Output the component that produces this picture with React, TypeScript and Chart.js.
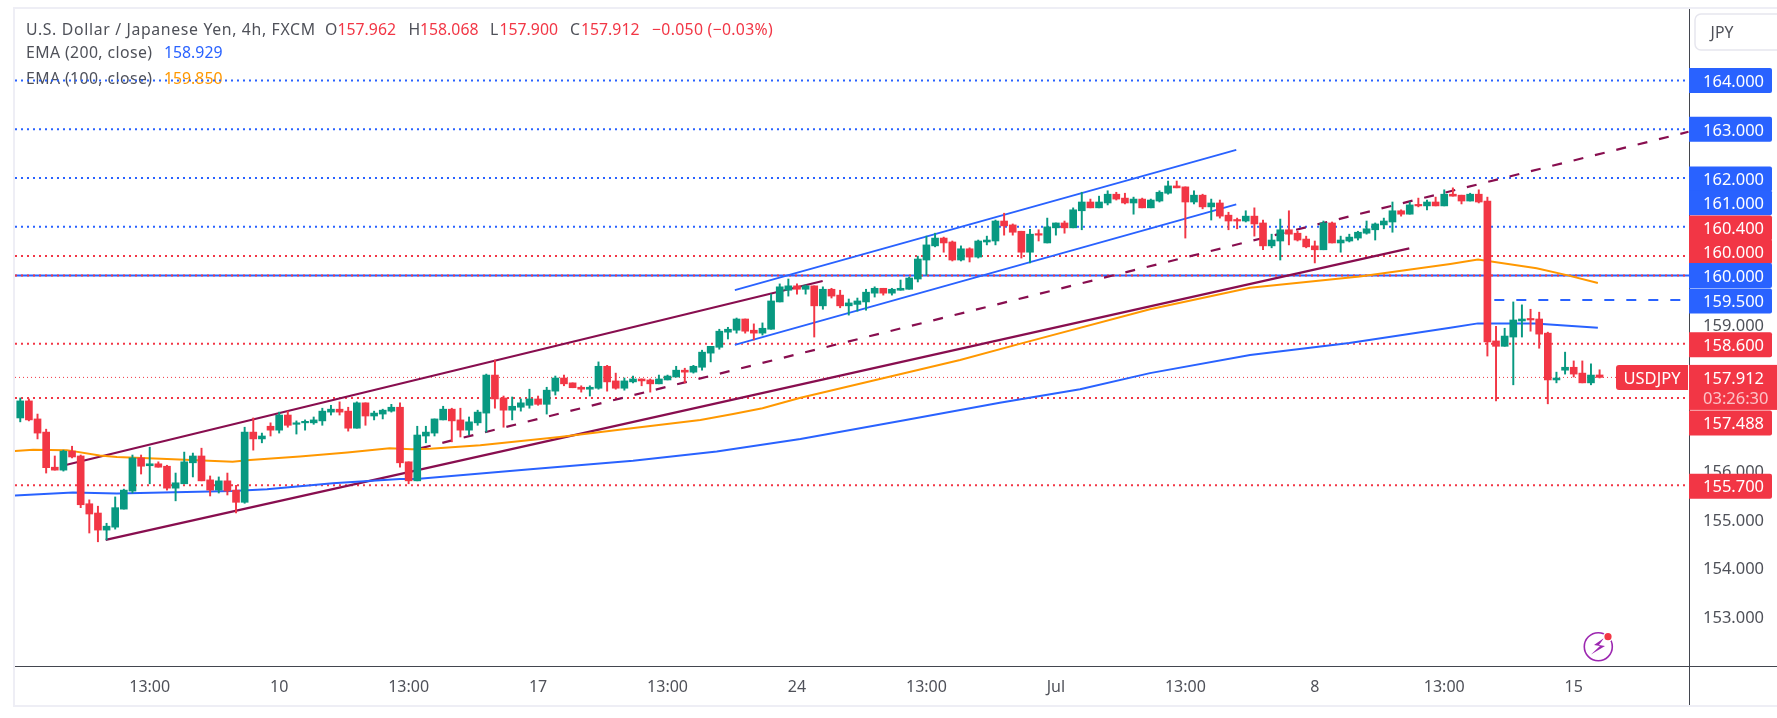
import { useEffect, useRef } from 'react'
import { Chart, registerables } from 'chart.js'

Chart.register(...registerables)

const opens = [
  157.08,157.43,157.06,156.79,156.07,156.01,156.40,156.30,155.32,155.13,
  154.78,154.84,155.21,155.58,156.26,156.10,156.14,156.09,155.64,155.73,
  156.16,156.30,155.81,155.60,155.79,155.60,155.35,156.79,156.65,156.91,
  156.83,157.14,156.95,156.98,156.98,157.02,157.20,157.26,157.22,156.87,
  157.39,157.12,157.16,157.22,157.30,156.18,155.79,156.71,156.77,157.04,
  157.26,157.04,156.83,156.98,157.18,157.96,157.49,157.24,157.30,157.34,
  157.47,157.36,157.63,157.90,157.80,157.71,157.67,157.69,158.14,157.84,
  157.69,157.82,157.88,157.86,157.78,157.86,157.92,158.06,158.02,158.12,
  158.41,158.53,158.84,158.88,159.11,158.88,158.82,158.90,159.46,159.70,
  159.79,159.72,159.79,159.38,159.72,159.60,159.38,159.41,159.46,159.64,
  159.74,159.64,159.70,159.72,159.93,160.32,160.61,160.77,160.69,160.32,
  160.55,160.38,160.69,160.71,161.12,161.04,160.91,160.48,160.85,160.67,
  160.98,161.08,160.98,161.33,161.51,161.39,161.49,161.67,161.59,161.49,
  161.57,161.39,161.53,161.69,161.84,161.82,161.51,161.65,161.41,161.49,
  161.24,161.14,161.12,161.22,161.08,160.61,160.71,160.94,160.87,160.75,
  160.61,160.53,161.08,160.67,160.71,160.77,160.87,160.94,161.04,161.10,
  161.33,161.26,161.45,161.43,161.51,161.43,161.67,161.65,161.53,161.67,
  161.53,158.66,158.55,158.74,159.07,159.11,159.11,158.82,157.86,158.06,
  158.12,158.00,157.80,157.962,
]
const closes = [
  157.43,157.04,156.77,156.06,156.01,156.40,156.28,155.30,155.11,154.78,
  154.86,155.24,155.60,156.26,156.09,156.14,156.07,155.64,155.75,156.18,
  156.30,155.79,155.60,155.79,155.58,155.35,156.79,156.65,156.71,156.83,
  157.14,156.93,156.98,157.00,157.04,157.22,157.26,157.20,156.87,157.39,
  157.12,157.18,157.24,157.30,156.16,155.79,156.73,156.79,157.06,157.26,
  157.02,156.83,157.00,157.20,157.96,157.47,157.24,157.32,157.39,157.47,
  157.36,157.65,157.90,157.78,157.70,157.67,157.71,158.14,157.82,157.69,
  157.84,157.88,157.84,157.78,157.88,157.94,158.06,158.02,158.14,158.43,
  158.55,158.86,158.90,159.11,158.86,158.82,158.92,159.48,159.77,159.79,
  159.72,159.79,159.38,159.72,159.58,159.38,159.44,159.48,159.66,159.74,
  159.64,159.72,159.74,159.95,160.34,160.63,160.77,160.67,160.32,160.55,
  160.38,160.71,160.73,161.12,161.02,160.89,160.48,160.85,160.83,161.00,
  161.08,160.98,161.35,161.51,161.39,161.51,161.67,161.57,161.49,161.57,
  161.39,161.55,161.71,161.84,161.80,161.51,161.65,161.41,161.49,161.22,
  161.12,161.12,161.22,161.06,160.61,160.73,160.94,160.85,160.73,160.59,
  160.53,161.08,160.67,160.73,160.79,160.89,160.96,161.06,161.12,161.33,
  161.26,161.45,161.43,161.51,161.43,161.67,161.63,161.53,161.67,161.51,
  158.64,158.55,158.76,159.09,159.11,159.09,158.80,157.86,157.90,158.12,
  157.98,157.80,157.96,157.912,
]
const highs = [
  157.49,157.47,157.16,156.85,156.30,156.42,156.50,156.32,155.40,155.27,
  154.92,155.46,155.62,156.32,156.32,156.48,156.18,156.11,155.95,156.38,
  156.36,156.46,155.89,155.87,155.95,155.70,156.89,157.08,156.77,156.98,
  157.20,157.22,157.02,157.04,157.10,157.28,157.34,157.41,157.30,157.41,
  157.39,157.22,157.26,157.36,157.39,156.18,156.91,156.91,157.06,157.32,
  157.28,157.28,157.10,157.24,157.98,158.27,157.53,157.51,157.47,157.67,
  157.53,157.71,157.94,157.96,157.80,157.74,157.74,158.23,158.16,158.00,
  157.90,157.94,157.88,157.88,157.96,157.96,158.14,158.10,158.16,158.47,
  158.55,158.90,158.94,159.13,159.11,159.01,159.03,159.62,159.83,159.93,
  159.83,159.81,159.79,159.77,159.74,159.70,159.52,159.54,159.72,159.77,
  159.74,159.74,159.91,159.97,160.40,160.81,160.87,160.79,160.71,160.61,
  160.57,160.73,160.81,161.14,161.28,161.06,160.91,160.95,160.94,161.18,
  161.08,161.12,161.39,161.71,161.57,161.63,161.74,161.71,161.69,161.61,
  161.59,161.57,161.74,161.94,161.94,161.82,161.74,161.67,161.57,161.55,
  161.30,161.18,161.33,161.39,161.14,160.85,161.16,161.33,160.91,160.81,
  160.71,161.12,161.10,160.81,160.85,160.91,161.12,161.08,161.18,161.51,
  161.35,161.51,161.59,161.55,161.61,161.76,161.80,161.65,161.69,161.76,
  161.61,158.96,158.92,159.46,159.40,159.31,159.25,158.84,158.02,158.43,
  158.25,158.25,158.19,158.068,
]
const lows = [
  157.00,157.02,156.65,155.95,156.01,155.99,156.26,155.24,154.72,154.54,
  154.58,154.80,155.21,155.54,155.93,155.73,156.07,155.60,155.38,155.73,
  155.87,155.79,155.48,155.54,155.50,155.13,155.33,156.42,156.57,156.71,
  156.77,156.89,156.75,156.83,156.95,156.93,157.14,157.14,156.81,156.87,
  156.93,157.04,157.06,157.20,156.07,155.73,155.79,156.57,156.71,157.04,
  156.59,156.69,156.73,156.93,156.79,157.28,156.89,157.04,157.22,157.28,
  157.34,157.16,157.55,157.74,157.70,157.61,157.53,157.67,157.63,157.67,
  157.65,157.80,157.74,157.61,157.78,157.86,157.92,157.80,158.00,158.06,
  158.23,158.49,158.70,158.82,158.82,158.68,158.78,158.90,159.46,159.58,
  159.62,159.62,158.74,159.31,159.54,159.34,159.19,159.27,159.29,159.56,
  159.60,159.60,159.70,159.72,159.87,160.01,160.59,160.48,160.30,160.30,
  160.28,160.36,160.63,160.63,160.83,160.83,160.36,160.26,160.71,160.67,
  160.83,160.87,160.98,160.94,161.39,161.39,161.45,161.55,161.47,161.26,
  161.39,161.39,161.51,161.67,161.80,160.77,161.47,161.37,161.14,161.18,
  160.94,160.96,161.10,160.81,160.53,160.57,160.32,160.63,160.71,160.57,
  160.26,160.53,160.67,160.48,160.69,160.73,160.85,160.73,160.96,160.89,
  161.22,161.26,161.41,161.35,161.43,161.43,161.63,161.47,161.53,161.49,
  158.35,157.43,158.55,157.76,158.74,158.86,158.51,157.37,157.80,157.98,
  157.92,157.80,157.76,157.900,
]

// EMA lines, read at the bends: candle index and price
const ema100Index = [-0.7,1.5,5.4,9.2,11.2,17,24.6,26.6,32.4,37.9,42.8,45.4,47.5,53.3,62.5,71.8,78.8,82.6,86,90.3,99.6,108.9,115.8,130.9,142.5,155.2,165.7,168.9,175.7,179.2,182.8]
const ema100Values = [156.40,156.43,156.42,156.31,156.28,156.24,156.18,156.22,156.29,156.37,156.46,156.44,156.45,156.52,156.69,156.89,157.04,157.16,157.28,157.49,157.88,158.27,158.60,159.31,159.75,159.98,160.24,160.33,160.15,160.01,159.85]
const ema200Index = [-0.7,6.1,11.2,24.6,28.6,36.2,44,45.9,59.1,71,80.7,90.4,102.6,113.5,122.8,130.9,142.5,154,165.7,168.9,175.5,182.8]
const ema200Values = [155.49,155.55,155.53,155.58,155.62,155.74,155.83,155.83,156.03,156.20,156.39,156.65,157.04,157.39,157.67,158.00,158.37,158.62,158.93,159.02,159.02,158.93]

const blueDottedLevels = [164, 163, 162, 161]
const redDottedLevels = [160.4, 160, 158.6, 157.488, 155.7]
const solidBlueLevel = 160
const lastPrice = 157.912
const dashedBlueLevel = 159.5
const dashedBlueStart = 170.8

const channelUpper = [[5.38, 156.12], [92.98, 159.89]]
const channelLower = [[9.9, 154.58], [160.95, 160.56]]
const channelMiddle = [[46.43, 156.46], [193.3, 162.95]]
const blueUpper = [[82.8, 159.7], [140.9, 162.58]]
const blueLower = [[82.8, 158.58], [140.9, 161.46]]

const xTickIndex = [15, 30, 45, 60, 75, 90, 105, 120, 135, 150, 165, 180]
const xTickLabels = ['13:00', '10', '13:00', '17', '13:00', '24', '13:00', 'Jul', '13:00', '8', '13:00', '15']
const yTicks = [153, 154, 155, 156, 159]

const badgePrices = [164, 163, 162, 161, 160.4, 160, 160, 159.5, 158.6, 157.488, 155.7]
const badgeLabels = ['164.000', '163.000', '162.000', '161.000', '160.400', '160.000', '160.000', '159.500', '158.600', '157.488', '155.700']
// how far the axis pushed each badge off its level so they do not overlap
const badgeShift = [0, 0, 1, -24, -28, -24, 0, 1, 1, 25, 1]
const badgeIsBlue = [true, true, true, true, false, false, true, true, false, false, false]

const titleParts = [
  ['U.S. Dollar / Japanese Yen, 4h, FXCM', 26, 'text', 0.66],
  ['O', 325, 'text', 0], ['157.962', 337.5, 'red', 0],
  ['H', 408.5, 'text', 0], ['158.068', 420, 'red', 0],
  ['L', 490, 'text', 0], ['157.900', 499.5, 'red', 0],
  ['C', 570, 'text', 0], ['157.912', 581, 'red', 0],
  ['\u22120.050 (\u22120.03%)', 652, 'red', 0.3],
] as const

const RED = '#f23645'
const GREEN = '#089981'
const BLUE = '#2962ff'
const ORANGE = '#ff9800'
const MAROON = '#880e4f'
const TEXT = '#4f5159'
const AXIS = '#43464f'
const FRAME = '#eeeef5'
const FONT = '"Noto Sans", sans-serif'

const X_MIN = -0.61
const X_MAX = 193.36

const pairs = (rows: number[][]) => rows.map(([x, y]) => ({ x, y }))
const zipLine = (xs: number[], ys: number[]) => xs.map((x, i) => ({ x, y: ys[i] }))
const flat = (y: number, from = X_MIN) => [{ x: from, y }, { x: X_MAX, y }]

const line = (data: { x: number; y: number }[], color: string, width: number, dash: number[], order: number) => ({
  type: 'line' as const,
  data,
  borderColor: color,
  borderWidth: width,
  borderDash: dash,
  pointRadius: 0,
  tension: 0,
  order,
})

const chrome = {
  id: 'chrome',
  beforeDatasetsDraw(chart: Chart) {
    const ctx = chart.ctx as any
    ctx.save()
    ctx.textBaseline = 'middle'
    ctx.textAlign = 'left'
    ctx.font = `15.8px ${FONT}`
    titleParts.forEach(([s, x, kind, spacing]) => {
      ctx.letterSpacing = `${spacing}px`
      ctx.fillStyle = kind === 'red' ? RED : TEXT
      ctx.fillText(s, x, 30.5)
    })
    ctx.letterSpacing = '0.4px'
    ctx.fillStyle = TEXT
    ctx.fillText('EMA (200, close)', 26, 53)
    ctx.fillText('EMA (100, close)', 26, 79)
    ctx.letterSpacing = '0px'
    ctx.fillStyle = BLUE
    ctx.fillText('158.929', 164, 53)
    ctx.fillStyle = ORANGE
    ctx.fillText('159.850', 164, 79)
    ctx.restore()
  },
  afterDraw(chart: Chart) {
    const ctx = chart.ctx
    const { left, top, right, bottom } = chart.chartArea
    const W = chart.width
    const yPx = (v: number) => chart.scales.y.getPixelForValue(v)
    ctx.save()

    // outer frame and the two axis lines
    ctx.fillStyle = FRAME
    ctx.fillRect(left - 2, top - 2, W, 2)
    ctx.fillRect(left - 2, top - 2, 2, 700)
    ctx.fillRect(left - 2, 705, W, 2)
    ctx.fillStyle = AXIS
    ctx.fillRect(left, bottom, W - left, 1)
    ctx.fillRect(right, top, 1, 705 - top)

    // currency button
    ctx.strokeStyle = '#e6e6ee'
    ctx.lineWidth = 1.5
    ctx.beginPath()
    ctx.roundRect(1695, 14, 100, 36, 6)
    ctx.stroke()
    ctx.fillStyle = TEXT
    ctx.font = `15.8px ${FONT}`
    ctx.textBaseline = 'middle'
    ctx.textAlign = 'center'
    ctx.fillText('JPY', 1722, 33)

    // price badges on the axis
    ctx.textAlign = 'left'
    ctx.font = `16.5px ${FONT}`
    badgePrices.forEach((p, i) => {
      const cy = yPx(p) + badgeShift[i]
      ctx.fillStyle = badgeIsBlue[i] ? BLUE : RED
      ctx.beginPath()
      ctx.roundRect(right, cy - 12.5, 83, 25, [0, 2, 2, 0])
      ctx.fill()
      ctx.fillStyle = '#ffffff'
      ctx.fillText(badgeLabels[i], right + 14, cy + 1.5)
    })

    // last price with countdown
    const lastY = yPx(lastPrice)
    ctx.fillStyle = RED
    ctx.fillRect(right, lastY - 12.5, 88, 45)
    ctx.fillStyle = '#ffffff'
    ctx.fillText('157.912', right + 14, lastY + 1.5)
    ctx.fillStyle = 'rgba(255,255,255,0.7)'
    ctx.fillText('03:26:30', right + 14, lastY + 21.5)

    // symbol tag
    ctx.fillStyle = RED
    ctx.beginPath()
    ctx.roundRect(1616, lastY - 12.5, 72, 25, [3, 0, 0, 3])
    ctx.fill()
    ctx.fillStyle = '#ffffff'
    ctx.textAlign = 'center'
    ctx.fillText('USDJPY', 1652, lastY + 1.5)

    // lightning badge
    ctx.strokeStyle = '#9c27b0'
    ctx.lineWidth = 1.6
    ctx.beginPath()
    ctx.arc(1598.3, 646.7, 14, 0, Math.PI * 2)
    ctx.stroke()
    ctx.fillStyle = '#9c27b0'
    ctx.beginPath()
    ctx.moveTo(1604, 638)
    ctx.lineTo(1594, 645)
    ctx.lineTo(1600, 646)
    ctx.lineTo(1591, 654.5)
    ctx.lineTo(1605, 646)
    ctx.lineTo(1599, 645)
    ctx.closePath()
    ctx.fill()
    ctx.fillStyle = '#ffffff'
    ctx.beginPath()
    ctx.arc(1608, 636.7, 5, 0, Math.PI * 2)
    ctx.fill()
    ctx.fillStyle = RED
    ctx.beginPath()
    ctx.arc(1608, 636.7, 3.6, 0, Math.PI * 2)
    ctx.fill()
    ctx.restore()
  },
}

const App = () => {
  const canvasRef = useRef<HTMLCanvasElement>(null)

  useEffect(() => {
    const candleColors = closes.map((c, i) => (c >= opens[i] ? GREEN : RED))
    const chart = new Chart(canvasRef.current!, {
      type: 'bar',
      data: {
        datasets: [
          ...blueDottedLevels.map((v) => line(flat(v), BLUE, 2, [2, 4], 40)),
          line(flat(solidBlueLevel), BLUE, 2, [], 39),
          ...redDottedLevels.map((v) => line(flat(v), RED, 2, [2, 4], 38)),
          line(flat(lastPrice), RED, 1, [1, 3], 38),
          line(flat(dashedBlueLevel, dashedBlueStart), BLUE, 2, [10, 12], 37),
          line(pairs(channelUpper), MAROON, 2.2, [], 30),
          line(pairs(channelLower), MAROON, 2.2, [], 30),
          line(pairs(channelMiddle), MAROON, 2.2, [10, 12], 30),
          line(pairs(blueUpper), BLUE, 1.8, [], 30),
          line(pairs(blueLower), BLUE, 1.8, [], 30),
          line(zipLine(ema100Index, ema100Values), ORANGE, 2, [], 25),
          line(zipLine(ema200Index, ema200Values), BLUE, 2, [], 25),
          {
            type: 'bar' as const,
            data: lows.map((l, i) => ({ x: i, y: [l, highs[i]] })),
            backgroundColor: candleColors,
            barThickness: 1.3,
            grouped: false,
            borderWidth: 0,
            order: 12,
          },
          {
            type: 'bar' as const,
            data: opens.map((o, i) => ({ x: i, y: [o, closes[i]] })),
            backgroundColor: candleColors,
            barThickness: 7,
            minBarLength: 1.5,
            grouped: false,
            borderWidth: 0,
            order: 10,
          },
        ] as any,
      },
      options: {
        responsive: false,
        animation: false,
        devicePixelRatio: 1,
        layout: { autoPadding: false, padding: { left: 15, top: 9, right: 0, bottom: 13 } },
        plugins: { legend: { display: false }, tooltip: { enabled: false } },
        scales: {
          x: {
            type: 'linear',
            offset: false,
            min: X_MIN,
            max: X_MAX,
            grid: { display: false, drawTicks: false },
            border: { display: false },
            afterBuildTicks: (s: any) => {
              s.ticks = xTickIndex.map((value) => ({ value }))
            },
            afterFit: (s: any) => {
              s.height = 39
              s.paddingLeft = 0
              s.paddingRight = 0
              s.paddingTop = 0
              s.paddingBottom = 0
            },
            ticks: {
              autoSkip: false,
              maxRotation: 0,
              padding: 12,
              color: TEXT,
              font: { family: FONT, size: 16 },
              callback: (v: any) => xTickLabels[xTickIndex.indexOf(v)],
            },
          },
          y: {
            position: 'right',
            min: 151.992,
            max: 165.469,
            grid: { display: false, drawTicks: false },
            border: { display: false },
            afterBuildTicks: (s: any) => {
              s.ticks = yTicks.map((value) => ({ value }))
            },
            afterFit: (s: any) => {
              s.width = 88
              s.paddingLeft = 0
              s.paddingRight = 0
              s.paddingTop = 0
              s.paddingBottom = 0
            },
            ticks: {
              padding: 14,
              labelOffset: 1.5,
              color: TEXT,
              font: { family: FONT, size: 16.5 },
              callback: (v: any) => Number(v).toFixed(3),
            },
          },
        },
      },
      plugins: [chrome],
    })

    return () => chart.destroy()
  }, [])

  return (
    <div style={{ position: 'absolute', left: 0, top: 0, width: 1777, height: 718, background: '#fff' }}>
      <canvas ref={canvasRef} width={1777} height={718} style={{ display: 'block' }} />
    </div>
  )
}

export default App
